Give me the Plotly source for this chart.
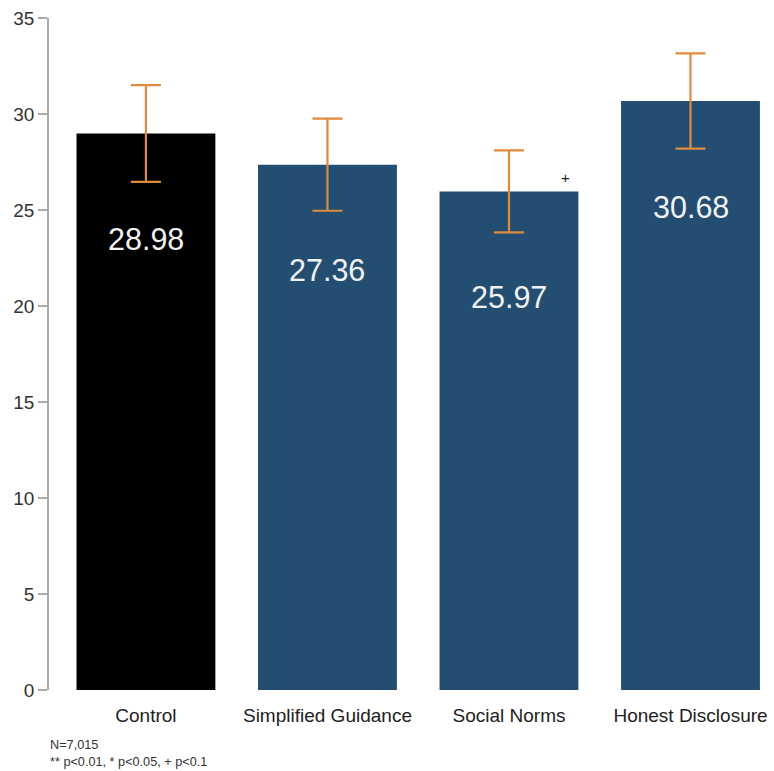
import plotly.graph_objects as go

categories = ["Control", "Simplified Guidance", "Social Norms", "Honest Disclosure"]
means = [28.98, 27.36, 25.97, 30.68]
ci_half = [2.52, 2.40, 2.14, 2.48]
bar_colors = ["#000000", "#234e71", "#234e71", "#234e71"]
significance = ["", "", "+", ""]
y_ticks = [0, 5, 10, 15, 20, 25, 30, 35]

fig = go.Figure()
fig.add_trace(go.Bar(
    x=list(range(len(categories))),
    y=means,
    marker=dict(color=bar_colors, line=dict(width=0)),
    width=0.765,
    error_y=dict(type="data", array=ci_half, visible=True,
                 color="#e08a3c", thickness=2.2, width=15),
    hoverinfo="skip",
))

# value labels inside the bars
for i, v in enumerate(means):
    fig.add_annotation(x=i, y=v - 5.5, text=f"{v:.2f}", showarrow=False,
                       font=dict(family="Liberation Sans, Arial", size=30.5, color="#f2f2f2"),
                       xanchor="center", yanchor="middle")
    if significance[i]:
        fig.add_annotation(x=i + 0.31, y=v + 0.7, text=significance[i], showarrow=False,
                           font=dict(family="Liberation Sans, Arial", size=15, color="#222222"),
                           xanchor="center", yanchor="middle")

fig.add_annotation(xref="paper", yref="paper", x=-0.001, y=-0.069,
                   text="N=7,015<br>** p<0.01, * p<0.05, + p<0.1",
                   showarrow=False, align="left", xanchor="left", yanchor="top",
                   font=dict(family="Liberation Sans, Arial", size=12.7, color="#333333"))

fig.update_layout(
    width=774, height=771,
    margin=dict(l=49, r=0, t=18, b=81),
    plot_bgcolor="white", paper_bgcolor="white",
    showlegend=False,
    xaxis=dict(range=[-0.534, 3.46], tickmode="array",
               tickvals=list(range(len(categories))), ticktext=categories,
               showline=False, showgrid=False, zeroline=False, ticks="",
               ticklabelstandoff=12,
               tickfont=dict(family="Liberation Sans, Arial", size=19, color="#222222")),
    yaxis=dict(range=[0, 35], tickmode="array", tickvals=y_ticks,
               showline=True, linecolor="#aaaaaa", linewidth=1.5,
               ticks="outside", ticklen=9, tickcolor="#aaaaaa", tickwidth=1.5,
               showgrid=False, zeroline=False,
               tickfont=dict(family="Liberation Sans, Arial", size=19, color="#333333")),
)

fig.write_html("out.html")
